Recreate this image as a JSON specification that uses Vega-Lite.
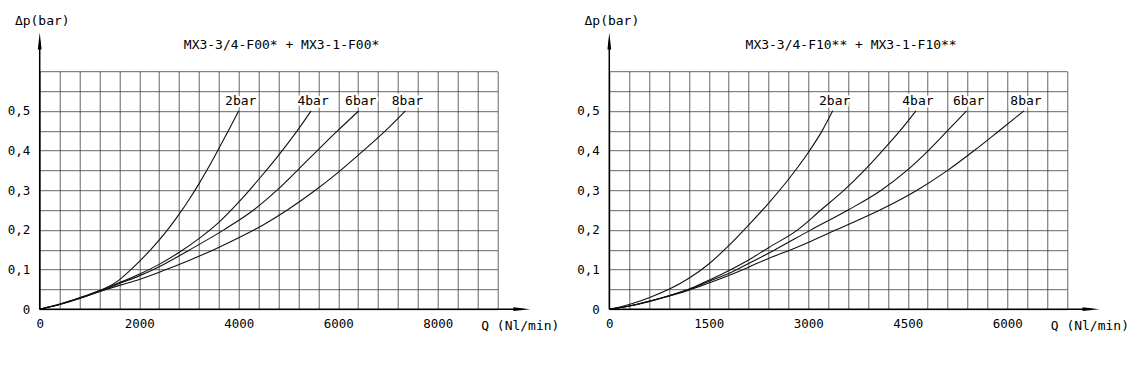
{
  "$schema": "https://vega.github.io/schema/vega-lite/v6.json",
  "background": "white",
  "padding": {"left": 6.7, "top": 14.2, "right": 5, "bottom": 5},
  "bounds": "flush",
  "spacing": 111.6,
  "config": {
    "view": {"stroke": null},
    "font": "DejaVu Sans Mono",
    "axis": {
      "domain": false, "ticks": false, "tickSize": 0, "grid": true, "tickCount": 40,
      "gridColor": "#3c3c3c", "gridWidth": 0.8,
      "labelFont": "DejaVu Sans Mono", "labelFontSize": 12.5, "labelColor": "#000",
      "labelFlush": false, "labelOverlap": false,
      "titleFont": "DejaVu Sans Mono", "titleFontSize": 13, "titleFontWeight": "normal", "titleColor": "#000"
    },
    "axisX": {"labelPadding": 8},
    "axisY": {"labelPadding": 10}
  },
  "datasets": {
    "left": [
      {"s": "2bar", "Q": 0, "dp": 0}, {"s": "2bar", "Q": 400, "dp": 0.013}, {"s": "2bar", "Q": 800, "dp": 0.029}, {"s": "2bar", "Q": 1200, "dp": 0.047}, {"s": "2bar", "Q": 1400, "dp": 0.058}, {"s": "2bar", "Q": 1600, "dp": 0.074}, {"s": "2bar", "Q": 1800, "dp": 0.096}, {"s": "2bar", "Q": 2000, "dp": 0.12}, {"s": "2bar", "Q": 2200, "dp": 0.146}, {"s": "2bar", "Q": 2400, "dp": 0.174}, {"s": "2bar", "Q": 2600, "dp": 0.205}, {"s": "2bar", "Q": 2800, "dp": 0.239}, {"s": "2bar", "Q": 3000, "dp": 0.276}, {"s": "2bar", "Q": 3200, "dp": 0.316}, {"s": "2bar", "Q": 3400, "dp": 0.359}, {"s": "2bar", "Q": 3600, "dp": 0.405}, {"s": "2bar", "Q": 3800, "dp": 0.452}, {"s": "2bar", "Q": 4000, "dp": 0.5},
      {"s": "4bar", "Q": 0, "dp": 0}, {"s": "4bar", "Q": 400, "dp": 0.012}, {"s": "4bar", "Q": 800, "dp": 0.028}, {"s": "4bar", "Q": 1200, "dp": 0.046}, {"s": "4bar", "Q": 1600, "dp": 0.067}, {"s": "4bar", "Q": 2000, "dp": 0.088}, {"s": "4bar", "Q": 2400, "dp": 0.113}, {"s": "4bar", "Q": 2800, "dp": 0.143}, {"s": "4bar", "Q": 3200, "dp": 0.178}, {"s": "4bar", "Q": 3600, "dp": 0.219}, {"s": "4bar", "Q": 4000, "dp": 0.27}, {"s": "4bar", "Q": 4400, "dp": 0.327}, {"s": "4bar", "Q": 4800, "dp": 0.388}, {"s": "4bar", "Q": 5200, "dp": 0.454}, {"s": "4bar", "Q": 5455, "dp": 0.5},
      {"s": "6bar", "Q": 0, "dp": 0}, {"s": "6bar", "Q": 400, "dp": 0.012}, {"s": "6bar", "Q": 800, "dp": 0.027}, {"s": "6bar", "Q": 1200, "dp": 0.045}, {"s": "6bar", "Q": 1600, "dp": 0.065}, {"s": "6bar", "Q": 2000, "dp": 0.084}, {"s": "6bar", "Q": 2290, "dp": 0.1}, {"s": "6bar", "Q": 3020, "dp": 0.15}, {"s": "6bar", "Q": 3700, "dp": 0.2}, {"s": "6bar", "Q": 4300, "dp": 0.25}, {"s": "6bar", "Q": 4770, "dp": 0.3}, {"s": "6bar", "Q": 5180, "dp": 0.35}, {"s": "6bar", "Q": 5580, "dp": 0.4}, {"s": "6bar", "Q": 5990, "dp": 0.45}, {"s": "6bar", "Q": 6413, "dp": 0.5},
      {"s": "8bar", "Q": 0, "dp": 0}, {"s": "8bar", "Q": 400, "dp": 0.012}, {"s": "8bar", "Q": 800, "dp": 0.027}, {"s": "8bar", "Q": 1200, "dp": 0.044}, {"s": "8bar", "Q": 1600, "dp": 0.06}, {"s": "8bar", "Q": 2000, "dp": 0.075}, {"s": "8bar", "Q": 2500, "dp": 0.098}, {"s": "8bar", "Q": 3000, "dp": 0.123}, {"s": "8bar", "Q": 3500, "dp": 0.15}, {"s": "8bar", "Q": 4000, "dp": 0.18}, {"s": "8bar", "Q": 4500, "dp": 0.213}, {"s": "8bar", "Q": 5000, "dp": 0.252}, {"s": "8bar", "Q": 5500, "dp": 0.296}, {"s": "8bar", "Q": 6000, "dp": 0.345}, {"s": "8bar", "Q": 6500, "dp": 0.399}, {"s": "8bar", "Q": 7000, "dp": 0.456}, {"s": "8bar", "Q": 7351, "dp": 0.5}
    ],
    "right": [
      {"s": "2bar", "Q": 0, "dp": 0}, {"s": "2bar", "Q": 300, "dp": 0.012}, {"s": "2bar", "Q": 600, "dp": 0.029}, {"s": "2bar", "Q": 900, "dp": 0.05}, {"s": "2bar", "Q": 1200, "dp": 0.078}, {"s": "2bar", "Q": 1500, "dp": 0.114}, {"s": "2bar", "Q": 1800, "dp": 0.16}, {"s": "2bar", "Q": 2100, "dp": 0.212}, {"s": "2bar", "Q": 2400, "dp": 0.267}, {"s": "2bar", "Q": 2700, "dp": 0.327}, {"s": "2bar", "Q": 3000, "dp": 0.395}, {"s": "2bar", "Q": 3200, "dp": 0.447}, {"s": "2bar", "Q": 3368, "dp": 0.5},
      {"s": "4bar", "Q": 0, "dp": 0}, {"s": "4bar", "Q": 300, "dp": 0.008}, {"s": "4bar", "Q": 600, "dp": 0.02}, {"s": "4bar", "Q": 900, "dp": 0.034}, {"s": "4bar", "Q": 1200, "dp": 0.05}, {"s": "4bar", "Q": 1500, "dp": 0.073}, {"s": "4bar", "Q": 1800, "dp": 0.097}, {"s": "4bar", "Q": 2100, "dp": 0.124}, {"s": "4bar", "Q": 2400, "dp": 0.155}, {"s": "4bar", "Q": 2840, "dp": 0.2}, {"s": "4bar", "Q": 3190, "dp": 0.25}, {"s": "4bar", "Q": 3540, "dp": 0.3}, {"s": "4bar", "Q": 3845, "dp": 0.35}, {"s": "4bar", "Q": 4120, "dp": 0.4}, {"s": "4bar", "Q": 4385, "dp": 0.45}, {"s": "4bar", "Q": 4623, "dp": 0.5},
      {"s": "6bar", "Q": 0, "dp": 0}, {"s": "6bar", "Q": 300, "dp": 0.008}, {"s": "6bar", "Q": 600, "dp": 0.02}, {"s": "6bar", "Q": 900, "dp": 0.034}, {"s": "6bar", "Q": 1200, "dp": 0.05}, {"s": "6bar", "Q": 1500, "dp": 0.07}, {"s": "6bar", "Q": 1800, "dp": 0.09}, {"s": "6bar", "Q": 2100, "dp": 0.115}, {"s": "6bar", "Q": 2500, "dp": 0.15}, {"s": "6bar", "Q": 3040, "dp": 0.2}, {"s": "6bar", "Q": 3600, "dp": 0.25}, {"s": "6bar", "Q": 4100, "dp": 0.3}, {"s": "6bar", "Q": 4488, "dp": 0.35}, {"s": "6bar", "Q": 4810, "dp": 0.4}, {"s": "6bar", "Q": 5100, "dp": 0.45}, {"s": "6bar", "Q": 5388, "dp": 0.5},
      {"s": "8bar", "Q": 0, "dp": 0}, {"s": "8bar", "Q": 300, "dp": 0.008}, {"s": "8bar", "Q": 600, "dp": 0.019}, {"s": "8bar", "Q": 900, "dp": 0.033}, {"s": "8bar", "Q": 1200, "dp": 0.048}, {"s": "8bar", "Q": 1500, "dp": 0.066}, {"s": "8bar", "Q": 1800, "dp": 0.085}, {"s": "8bar", "Q": 2100, "dp": 0.106}, {"s": "8bar", "Q": 2400, "dp": 0.128}, {"s": "8bar", "Q": 2740, "dp": 0.15}, {"s": "8bar", "Q": 3050, "dp": 0.172}, {"s": "8bar", "Q": 3420, "dp": 0.2}, {"s": "8bar", "Q": 4080, "dp": 0.25}, {"s": "8bar", "Q": 4640, "dp": 0.3}, {"s": "8bar", "Q": 5101, "dp": 0.35}, {"s": "8bar", "Q": 5502, "dp": 0.4}, {"s": "8bar", "Q": 5879, "dp": 0.45}, {"s": "8bar", "Q": 6252, "dp": 0.5}
    ]
  },
  "hconcat": [
    {
      "width": 457.7, "height": 238,
      "layer": [
        {
          "data": {"name": "left"},
          "mark": {"type": "line", "interpolate": "monotone", "color": "#111", "strokeWidth": 1.1},
          "encoding": {
            "x": {"field": "Q", "type": "quantitative", "scale": {"domain": [0, 9200], "nice": false, "zero": true},
              "axis": {"values": [0,400,800,1200,1600,2000,2400,2800,3200,3600,4000,4400,4800,5200,5600,6000,6400,6800,7200,7600,8000,8400,8800,9200], "tickCount": 40,
                "labelExpr": "datum.value % 2000 == 0 && datum.value <= 8000 ? format(datum.value, 'd') : ''",
                "title": "Q (Nl/min)", "titleAngle": 0, "titleAlign": "left", "titleBaseline": "middle", "titleX": 441, "titleY": 16}},
            "y": {"field": "dp", "type": "quantitative", "scale": {"domain": [0, 0.6], "nice": false, "zero": true},
              "axis": {"values": [0,0.05,0.1,0.15,0.2,0.25,0.3,0.35,0.4,0.45,0.5,0.55,0.6], "tickCount": 40,
                "labelExpr": "datum.value > 0.51 ? '' : (round(datum.value * 100) % 10 != 0 ? '' : (datum.value == 0 ? '0' : replace(format(datum.value, '.1f'), '.', ',')))",
                "title": "Δp(bar)", "titleAngle": 0, "titleAlign": "left", "titleBaseline": "top", "titleX": -25.3, "titleY": -56.3}},
            "detail": {"field": "s"}
          }
        },
        {
          "data": {"name": "left"},
          "transform": [{"filter": "datum.dp >= 0.5"}],
          "mark": {"type": "text", "fill": "white", "stroke": "white", "strokeWidth": 5, "strokeJoin": "round", "fontSize": 13, "dx": 2, "dy": -10, "baseline": "middle", "align": "center"},
          "encoding": {"x": {"field": "Q", "type": "quantitative"}, "y": {"field": "dp", "type": "quantitative"}, "text": {"field": "s"}}
        },
        {
          "data": {"name": "left"},
          "transform": [{"filter": "datum.dp >= 0.5"}],
          "mark": {"type": "text", "color": "#000", "fontSize": 13, "dx": 2, "dy": -10, "baseline": "middle", "align": "center"},
          "encoding": {"x": {"field": "Q", "type": "quantitative"}, "y": {"field": "dp", "type": "quantitative"}, "text": {"field": "s"}}
        },
        {
          "data": {"values": [{}]},
          "mark": {"type": "rule", "color": "#000", "strokeWidth": 1.5},
          "encoding": {"x": {"datum": 0}, "x2": {"datum": 9692}, "y": {"datum": 0}}
        },
        {
          "data": {"values": [{}]},
          "mark": {"type": "rule", "color": "#000", "strokeWidth": 1.5},
          "encoding": {"x": {"datum": 0}, "y": {"datum": 0}, "y2": {"datum": 0.676}}
        },
        {
          "data": {"values": [{}]},
          "mark": {"type": "point", "shape": "M-1,-0.22L1,0L-1,0.22Z", "size": 289, "filled": true, "color": "#000", "opacity": 1},
          "encoding": {"x": {"datum": 9692}, "y": {"datum": 0}}
        },
        {
          "data": {"values": [{}]},
          "mark": {"type": "point", "shape": "M-0.22,1L0,-1L0.22,1Z", "size": 289, "filled": true, "color": "#000", "opacity": 1},
          "encoding": {"x": {"datum": 0}, "y": {"datum": 0.676}}
        },
        {
          "data": {"values": [{}]},
          "mark": {"type": "text", "color": "#000", "fontSize": 13, "dx": 13, "baseline": "middle", "align": "center"},
          "encoding": {"x": {"datum": 4600}, "y": {"datum": 0.665}, "text": {"value": "MX3-3/4-F00* + MX3-1-F00*"}}
        }
      ]
    },
    {
      "width": 457.7, "height": 238,
      "layer": [
        {
          "data": {"name": "right"},
          "mark": {"type": "line", "interpolate": "monotone", "color": "#111", "strokeWidth": 1.1},
          "encoding": {
            "x": {"field": "Q", "type": "quantitative", "scale": {"domain": [0, 6900], "nice": false, "zero": true},
              "axis": {"values": [0,300,600,900,1200,1500,1800,2100,2400,2700,3000,3300,3600,3900,4200,4500,4800,5100,5400,5700,6000,6300,6600,6900], "tickCount": 40,
                "labelExpr": "datum.value % 1500 == 0 && datum.value <= 6000 ? format(datum.value, 'd') : ''",
                "title": "Q (Nl/min)", "titleAngle": 0, "titleAlign": "left", "titleBaseline": "middle", "titleX": 441, "titleY": 16}},
            "y": {"field": "dp", "type": "quantitative", "scale": {"domain": [0, 0.6], "nice": false, "zero": true},
              "axis": {"values": [0,0.05,0.1,0.15,0.2,0.25,0.3,0.35,0.4,0.45,0.5,0.55,0.6], "tickCount": 40,
                "labelExpr": "datum.value > 0.51 ? '' : (round(datum.value * 100) % 10 != 0 ? '' : (datum.value == 0 ? '0' : replace(format(datum.value, '.1f'), '.', ',')))",
                "title": "Δp(bar)", "titleAngle": 0, "titleAlign": "left", "titleBaseline": "top", "titleX": -25.3, "titleY": -56.3}},
            "detail": {"field": "s"}
          }
        },
        {
          "data": {"name": "right"},
          "transform": [{"filter": "datum.dp >= 0.5"}],
          "mark": {"type": "text", "fill": "white", "stroke": "white", "strokeWidth": 5, "strokeJoin": "round", "fontSize": 13, "dx": 2, "dy": -10, "baseline": "middle", "align": "center"},
          "encoding": {"x": {"field": "Q", "type": "quantitative"}, "y": {"field": "dp", "type": "quantitative"}, "text": {"field": "s"}}
        },
        {
          "data": {"name": "right"},
          "transform": [{"filter": "datum.dp >= 0.5"}],
          "mark": {"type": "text", "color": "#000", "fontSize": 13, "dx": 2, "dy": -10, "baseline": "middle", "align": "center"},
          "encoding": {"x": {"field": "Q", "type": "quantitative"}, "y": {"field": "dp", "type": "quantitative"}, "text": {"field": "s"}}
        },
        {
          "data": {"values": [{}]},
          "mark": {"type": "rule", "color": "#000", "strokeWidth": 1.5},
          "encoding": {"x": {"datum": 0}, "x2": {"datum": 7262}, "y": {"datum": 0}}
        },
        {
          "data": {"values": [{}]},
          "mark": {"type": "rule", "color": "#000", "strokeWidth": 1.5},
          "encoding": {"x": {"datum": 0}, "y": {"datum": 0}, "y2": {"datum": 0.676}}
        },
        {
          "data": {"values": [{}]},
          "mark": {"type": "point", "shape": "M-1,-0.22L1,0L-1,0.22Z", "size": 289, "filled": true, "color": "#000", "opacity": 1},
          "encoding": {"x": {"datum": 7262}, "y": {"datum": 0}}
        },
        {
          "data": {"values": [{}]},
          "mark": {"type": "point", "shape": "M-0.22,1L0,-1L0.22,1Z", "size": 289, "filled": true, "color": "#000", "opacity": 1},
          "encoding": {"x": {"datum": 0}, "y": {"datum": 0.676}}
        },
        {
          "data": {"values": [{}]},
          "mark": {"type": "text", "color": "#000", "fontSize": 13, "dx": 13, "baseline": "middle", "align": "center"},
          "encoding": {"x": {"datum": 3450}, "y": {"datum": 0.665}, "text": {"value": "MX3-3/4-F10** + MX3-1-F10**"}}
        }
      ]
    }
  ]
}
